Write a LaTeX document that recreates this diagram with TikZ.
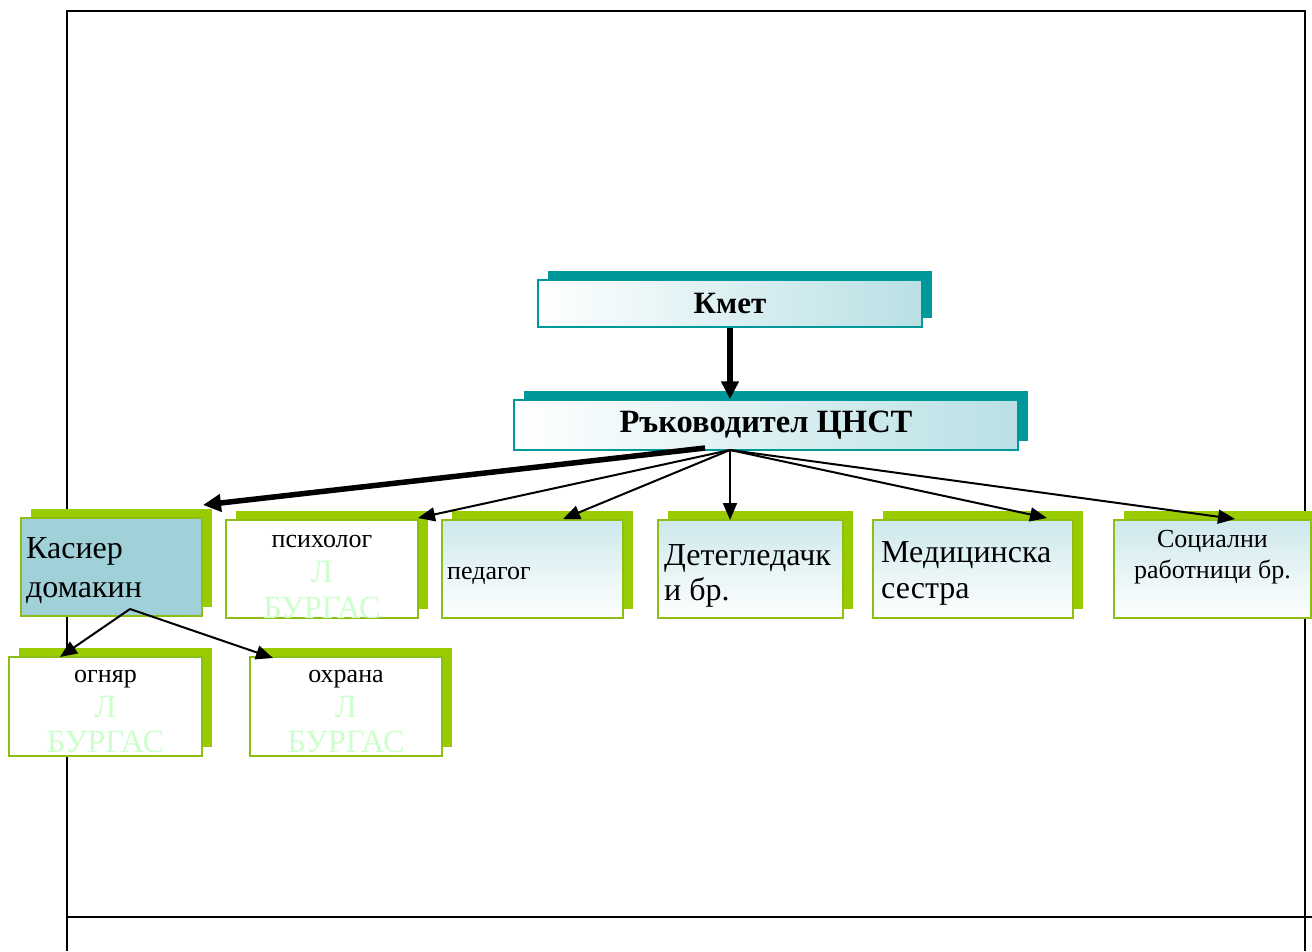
\documentclass[tikz,border=0pt]{standalone}
\usepackage{fontspec}
\setmainfont{Liberation Serif}
\usetikzlibrary{arrows.meta,shadows,calc}
\definecolor{tealc}{RGB}{0,153,153}
\definecolor{lteal}{RGB}{185,224,229}
\definecolor{gshadow}{RGB}{153,204,0}
\definecolor{gborder}{RGB}{140,190,20}
\definecolor{lgrad}{RGB}{206,232,236}
\definecolor{kasfill}{RGB}{160,208,216}
\definecolor{ghostg}{RGB}{204,255,204}
\begin{document}
\begin{tikzpicture}[x=1pt,y=-1pt,
  topbox/.style={draw=tealc, line width=1.5pt, left color=white, right color=lteal,
    general shadow={fill=tealc, shadow xshift=10pt, shadow yshift=9pt},
    inner sep=0pt, font=\fontsize{31}{34}\selectfont\bfseries},
  greenbox/.style={draw=gborder, line width=1.5pt, fill=white,
    general shadow={fill=gshadow, shadow xshift=10pt, shadow yshift=9pt},
    inner sep=0pt},
  gradbox/.style={greenbox, top color=lgrad, bottom color=white},
  big/.style={font=\fontsize{32}{38}\selectfont, inner sep=0pt, anchor=base west},
  small/.style={font=\fontsize{26}{31}\selectfont, inner sep=0pt, anchor=base},
  ghost/.style={font=\fontsize{32.5}{35}\selectfont, inner sep=0pt, anchor=base, text=ghostg},
  arr/.style={-{Triangle[length=17pt,width=14pt]}, line width=2pt, black},
  thick arr/.style={-{Triangle[length=18pt,width=17pt]}, line width=5.5pt, black},
  frame/.style={line width=2pt, black}
]
\useasboundingbox (0,0) rectangle (1312,951);
% frame
\draw[frame] (67,951) -- (67,11) -- (1305,11) -- (1305,951);
\draw[frame] (67,917) -- (1312,917);

% top boxes
\node[topbox, minimum width=384pt, minimum height=47pt] (kmet) at (730,303.5) {Кмет};
\node[topbox, font=\fontsize{32.5}{36}\selectfont\bfseries, minimum width=504pt, minimum height=50pt] (ruk) at (766,425) {Ръководител ЦНСТ};

% row boxes
\node[greenbox, fill=kasfill, minimum width=181pt, minimum height=98pt] (kas) at (111.5,567) {};
\node[greenbox, minimum width=192pt, minimum height=98pt] (psi) at (322,569) {};
\node[gradbox, minimum width=181pt, minimum height=98pt] (ped) at (532.5,569) {};
\node[gradbox, minimum width=185pt, minimum height=98pt] (det) at (750.5,569) {};
\node[gradbox, minimum width=200pt, minimum height=98pt] (med) at (973,569) {};
\node[gradbox, minimum width=197pt, minimum height=98pt] (soc) at (1212.5,569) {};
\node[greenbox, minimum width=193pt, minimum height=99pt] (ogn) at (105.5,706.5) {};
\node[greenbox, minimum width=192pt, minimum height=99pt] (ohr) at (346,706.5) {};

% texts
\node[big] (kas1) at (26,558) {Касиер};
\node[big] (kas2) at (26,597) {домакин};
\begin{scope}
\clip (227,521) rectangle (417,617);
\node[small] (psi1) at (322,547) {психолог};
\node[ghost] (psi2) at (322,582) {Л};
\node[ghost] (psi3) at (322,618) {БУРГАС};
\end{scope}
\node[small, anchor=base west] (ped1) at (447,579) {педагог};
\node[big] (det1) at (664,565) {Детегледачк};
\node[big] (det2) at (664,600) {и бр.};
\node[big] (med1) at (881,562) {Медицинска};
\node[big] (med2) at (881,598) {сестра};
\node[small] (soc1) at (1212.5,547) {Социални};
\node[small] (soc2) at (1212.5,578) {работници бр.};
\begin{scope}
\clip (10,658) rectangle (201,755);
\node[small] (ogn1) at (105.5,682) {огняр};
\node[ghost] (ogn2) at (105.5,717) {Л};
\node[ghost] (ogn3) at (105.5,752) {БУРГАС};
\end{scope}
\begin{scope}
\clip (251,658) rectangle (441,755);
\node[small] (ohr1) at (346,682) {охрана};
\node[ghost] (ohr2) at (346,717) {Л};
\node[ghost] (ohr3) at (346,752) {БУРГАС};
\end{scope}

% connector points
\coordinate (hub) at (730,450);
\coordinate (hubk) at (705,448);
\coordinate (tkas) at (203,505);
\coordinate (tpsi) at (418,518);
\coordinate (tped) at (563,519);
\coordinate (tdet) at (730,520);
\coordinate (tmed) at (1047,518);
\coordinate (tsoc) at (1235,519);
\coordinate (kasb) at (130,609);
\coordinate (togn) at (60,657);
\coordinate (tohr) at (273,658);

% connectors
\draw[thick arr] (kmet.south -| hub) -- (ruk.north -| hub);
\draw[thick arr] (hubk) -- (tkas);
\draw[arr] (hub) -- (tpsi);
\draw[arr] (hub) -- (tped);
\draw[arr] (hub) -- (tdet);
\draw[arr] (hub) -- (tmed);
\draw[arr] (hub) -- (tsoc);
\draw[arr] (kasb) -- (togn);
\draw[arr] (kasb) -- (tohr);
\end{tikzpicture}
\end{document}
